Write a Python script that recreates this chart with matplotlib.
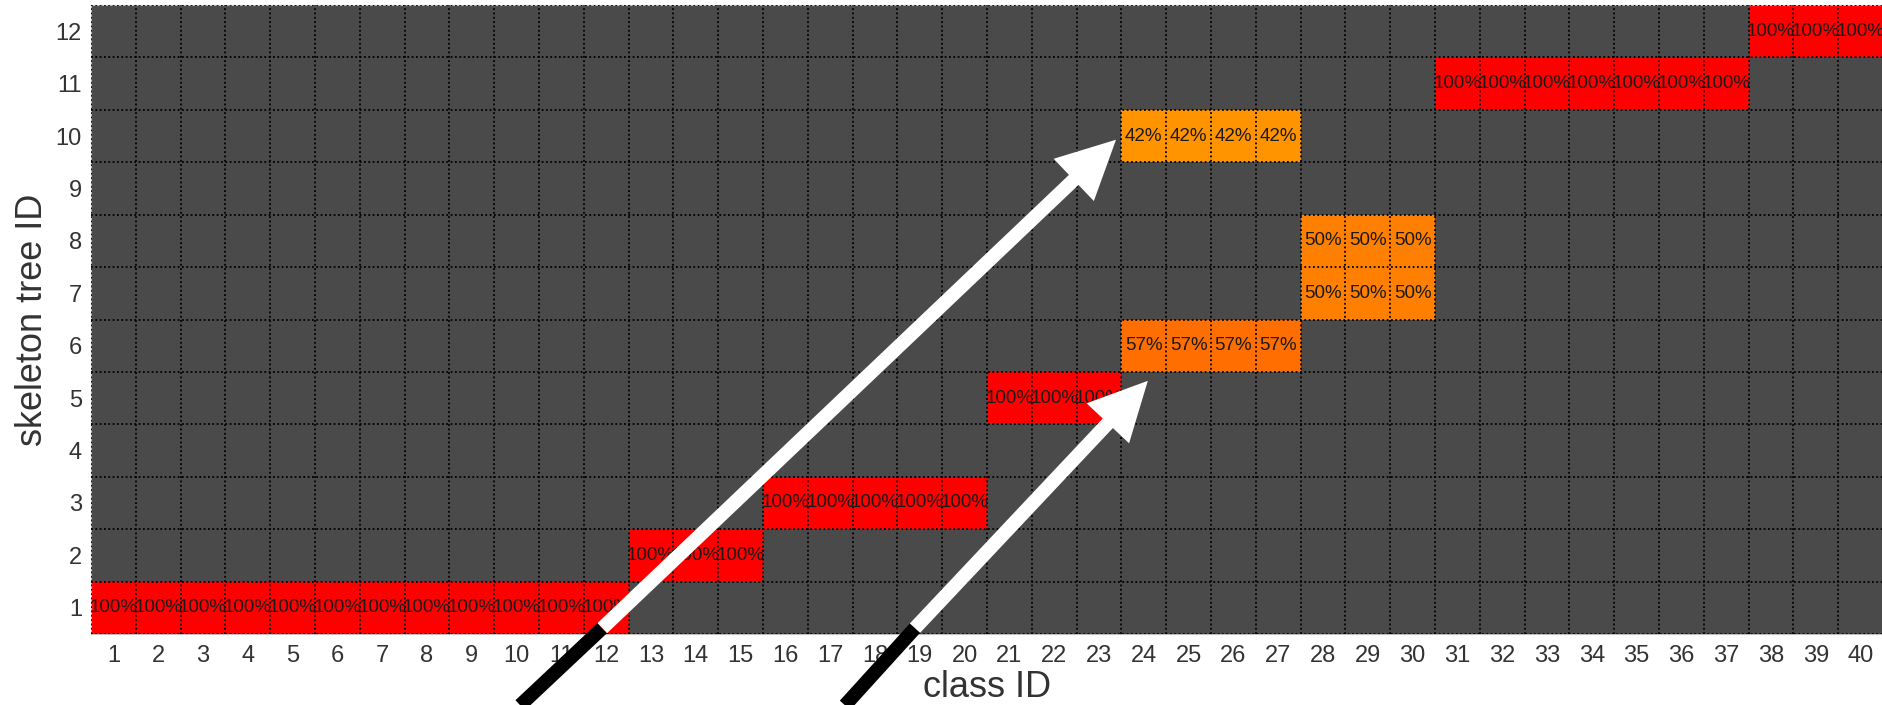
import numpy as np
import matplotlib
matplotlib.use("Agg")
import matplotlib.pyplot as plt

plt.rcParams['font.family'] = ['Liberation Sans', 'DejaVu Sans']

class_ids = list(range(1, 41))
tree_ids = list(range(1, 13))

# runs of consecutive classes assigned to one skeleton tree, with their share (%)
run_tree = [1, 2, 3, 5, 6, 7, 8, 10, 11, 12]
run_first = [1, 13, 16, 21, 24, 28, 28, 24, 31, 38]
run_last = [12, 15, 20, 23, 27, 30, 30, 27, 37, 40]
run_pct = [100, 100, 100, 100, 57, 50, 50, 42, 100, 100]

# annotation arrows: tail (below the axes), black/white joint, tip
arrow_tail = [(10.08, -0.86), (17.33, -0.86)]
arrow_joint = [(11.91, 0.61), (18.89, 0.61)]
arrow_tip = [(23.38, 9.93), (24.09, 5.33)]

share = np.full((len(tree_ids), len(class_ids)), np.nan)
for t, a, b, p in zip(run_tree, run_first, run_last, run_pct):
    share[t - 1, a - 1:b] = p

fig = plt.figure(figsize=(18.83, 7.05), dpi=100)
ax = fig.add_axes([91 / 1883, 71 / 705, 1792 / 1883, 629 / 705])
ax.set_facecolor('#4a4a4a')

x_edges = np.arange(len(class_ids) + 1) + 0.5
y_edges = np.arange(len(tree_ids) + 1) + 0.5
shade = np.ma.masked_invalid(1 - share / 100.0)
ax.pcolormesh(x_edges, y_edges, shade, cmap='autumn', vmin=0, vmax=1, zorder=1)

for i, t in enumerate(tree_ids):
    for j, c in enumerate(class_ids):
        v = share[i, j]
        if not np.isnan(v):
            ax.text(c, t, f"{int(v)}%", ha='center', va='center',
                    fontsize=13.5, color='#1a1a1a', zorder=3, clip_on=True)

ax.set_xlim(0.5, len(class_ids) + 0.5)
ax.set_ylim(0.5, len(tree_ids) + 0.5)
ax.set_xticks(class_ids)
ax.set_yticks(tree_ids)
ax.set_xticks(x_edges, minor=True)
ax.set_yticks(y_edges, minor=True)
ax.tick_params(which='both', length=0)
ax.tick_params(axis='x', which='major', pad=8, labelsize=17, labelcolor='#333333')
ax.tick_params(axis='y', which='major', pad=6.5, labelsize=17, labelcolor='#333333')
ax.grid(which='minor', color='black', linestyle=(0, (1, 1.4)), linewidth=1.3, zorder=2)
ax.set_axisbelow(False)
for s in ax.spines.values():
    s.set_color('#c0c0c0')
    s.set_linewidth(0.8)

ax.set_xlabel('class ID', fontsize=26, color='#333333', labelpad=2)
ax.set_ylabel('skeleton tree ID', fontsize=26, color='#333333', labelpad=4)

for tail, joint, tip in zip(arrow_tail, arrow_joint, arrow_tip):
    ax.plot([tail[0], joint[0]], [tail[1], joint[1]], color='black', lw=10,
            solid_capstyle='butt', clip_on=False, zorder=6)
    ax.annotate('', xy=tip, xytext=joint, annotation_clip=False,
                arrowprops=dict(arrowstyle='simple,head_length=42,head_width=42,tail_width=10',
                                mutation_scale=1, color='white', lw=0,
                                shrinkA=0, shrinkB=0, zorder=6))

ax.set_xlim(0.5, len(class_ids) + 0.5)
ax.set_ylim(0.5, len(tree_ids) + 0.5)

fig.savefig('out.png', dpi=100)
